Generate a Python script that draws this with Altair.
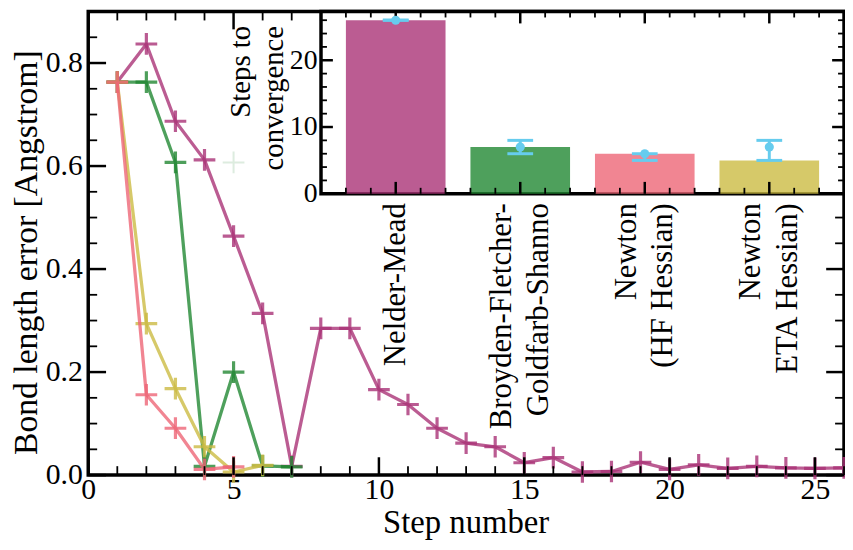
import altair as alt
import pandas as pd

FONT = "Liberation Serif"

# ---------------- main panel data ----------------
steps_nm = [1, 2, 3, 4, 5, 6, 7, 8, 9, 10, 11, 12, 13, 14, 15, 16, 17, 18, 19, 20, 21, 22, 23, 24, 25, 26]
err_nm = [0.763, 0.837, 0.687, 0.612, 0.464, 0.314, 0.017, 0.285, 0.285, 0.166, 0.137, 0.091, 0.062,
          0.055, 0.024, 0.034, 0.006, 0.007, 0.025, 0.011, 0.020, 0.013, 0.017, 0.014, 0.013, 0.014]
steps_bfgs = [1, 2, 3, 4, 5, 6, 7]
err_bfgs = [0.763, 0.763, 0.607, 0.017, 0.200, 0.018, 0.016]
steps_hf = [1, 2, 3, 4, 5]
err_hf = [0.763, 0.156, 0.091, 0.011, 0.016]
steps_eta = [1, 2, 3, 4, 5, 6]
err_eta = [0.763, 0.294, 0.168, 0.055, 0.006, 0.019]
ghost_step = [5]
ghost_err = [0.607]

# ---------------- inset data ----------------
methods = ["Nelder-Mead", "BFGS", "Newton HF", "Newton ETA"]
method_labels = ["Nelder-Mead", "Broyden-Fletcher-|Goldfarb-Shanno", "Newton|(HF Hessian)", "Newton|ETA Hessian)"]
method_idx = [0, 1, 2, 3]
bar_steps = [26, 7, 6, 5]
bar_base = [0, 0, 0, 0]
pt_mean = [26, 7, 6, 7]
pt_lo = [26, 6, 5, 5]
pt_hi = [26, 8, 6, 8]

colors = ["#AA3377", "#228833", "#EE6677", "#CCBB44"]
cyan = "#66CCEE"

# ---------------- axes / ticks ----------------
main_x_domain = [0, 26]
main_y_domain = [0, 0.9]
main_x_major = [0, 5, 10, 15, 20, 25]
main_x_minor = [1, 2, 3, 4, 6, 7, 8, 9, 11, 12, 13, 14, 16, 17, 18, 19, 21, 22, 23, 24, 26]
main_y_major = [0.0, 0.2, 0.4, 0.6, 0.8]
main_y_minor = [0.05, 0.1, 0.15, 0.25, 0.3, 0.35, 0.45, 0.5, 0.55, 0.65, 0.7, 0.75, 0.85]

inset_x_domain = [-0.6, 3.6]
inset_y_domain = [0, 27.3]
inset_x_major = [0, 1, 2, 3]
inset_x_minor = [-0.4, -0.2, 0.2, 0.4, 0.6, 0.8, 1.2, 1.4, 1.6, 1.8, 2.2, 2.4, 2.6, 2.8, 3.2, 3.4]
inset_y_major = [0, 10, 20]
inset_y_minor = [2, 4, 6, 8, 12, 14, 16, 18, 22, 24, 26]

W, H = 763, 468
INSET_RANGE_X = [235, 763]
INSET_RANGE_Y = [184, 0]
LABEL_LH = 37

mx = alt.Scale(domain=main_x_domain, nice=False, zero=False)
my = alt.Scale(domain=main_y_domain, nice=False, zero=False)
ix = alt.Scale(domain=inset_x_domain, range=INSET_RANGE_X, nice=False, zero=False)
iy = alt.Scale(domain=inset_y_domain, range=INSET_RANGE_Y, nice=False, zero=False)

main_xaxis = alt.Axis(
    orient="bottom", values=main_x_major, labelFontSize=30, labelPadding=0, labelBaseline="top",
    labelFlush=False, labelOverlap=False, title="Step number", titleFontSize=33,
    titleX=381, titleY=58, titleBaseline="alphabetic", titleAlign="center")
main_yaxis = alt.Axis(
    orient="left", values=main_y_major, format=".1f", labelFontSize=30, labelPadding=6,
    labelFlush=False, labelOverlap=False, title="Bond length error [Angstrom]",
    titleFontSize=34, titleX=-62, titleY=243, titleAngle=270,
    titleBaseline="middle", titleAlign="center")

label_array = "[" + ",".join("'" + s + "'" for s in method_labels) + "]"
inset_xaxis = alt.Axis(
    orient="bottom", offset=-(H - INSET_RANGE_Y[0]), values=inset_x_major,
    labelExpr=f"split({label_array}[datum.value], '|')",
    labelAngle=270, labelAlign="right", labelBaseline="middle", labelPadding=9,
    labelOffset={"condition": {"test": f"length(split({label_array}[datum.value], '|')) > 1",
                               "value": -LABEL_LH / 2}, "value": 0},
    labelFontSize=31, labelLineHeight=LABEL_LH, labelOverlap=False, labelFlush=False,
    labelBound=False, labelLimit=1000, title=None)
inset_yaxis = alt.Axis(
    orient="left", offset=-INSET_RANGE_X[0], values=inset_y_major,
    labelFontSize=28, labelPadding=4, labelFlush=False, labelOverlap=False,
    title=["Steps to", "convergence"], titleFontSize=29, titleAngle=270,
    titleAlign="right", titleBaseline="middle", titleX=-81, titleY=14,
    titleLineHeight=33, titleLimit=1000)

PLUS = "M-1,0L1,0M0,-1L0,1"


def series_layers(steps, errs, color, opacity=0.8):
    df = pd.DataFrame({"step": steps, "err": errs})
    enc = dict(x=alt.X("step:Q", scale=mx, axis=main_xaxis),
               y=alt.Y("err:Q", scale=my, axis=main_yaxis))
    line = alt.Chart(df).mark_line(color=color, strokeWidth=3.3, opacity=opacity,
                                   strokeJoin="round").encode(**enc)
    pts = alt.Chart(df).mark_point(shape=PLUS, size=480, filled=False, strokeWidth=3.2,
                                   opacity=opacity, color=color).encode(**enc)
    return [line, pts]


def ticks(values, sx, sy, ax_x, ax_y, side, edge, length, thick):
    df = pd.DataFrame({"v": values})
    base = alt.Chart(df)
    if side in ("bottom", "top"):
        off = -length / 2 if side == "bottom" else length / 2
        return base.mark_tick(orient="vertical", size=length, thickness=thick,
                              yOffset=off, color="black", opacity=1).encode(
            x=alt.X("v:Q", scale=sx, axis=ax_x),
            y=alt.YDatum(edge, type="quantitative", scale=sy, axis=ax_y))
    off = length / 2 if side == "left" else -length / 2
    return base.mark_tick(orient="horizontal", size=length, thickness=thick,
                          xOffset=off, color="black", opacity=1).encode(
        y=alt.Y("v:Q", scale=sy, axis=ax_y),
        x=alt.XDatum(edge, type="quantitative", scale=sx, axis=ax_x))


main_layers = []
main_layers += series_layers(steps_nm, err_nm, colors[0])
main_layers += series_layers(steps_bfgs, err_bfgs, colors[1])
main_layers += series_layers(steps_eta, err_eta, colors[3])
main_layers += series_layers(steps_hf, err_hf, colors[2])
ghost = alt.Chart(pd.DataFrame({"step": ghost_step, "err": ghost_err})).mark_point(
    shape=PLUS, size=480, filled=False, strokeWidth=2, opacity=0.15, color=colors[1]).encode(
    x=alt.X("step:Q", scale=mx, axis=main_xaxis), y=alt.Y("err:Q", scale=my, axis=main_yaxis))
main_layers.append(ghost)

for side, edge in (("bottom", main_y_domain[0]), ("top", main_y_domain[1])):
    main_layers.append(ticks(main_x_major, mx, my, main_xaxis, main_yaxis, side, edge, 18, 2.5))
    main_layers.append(ticks(main_x_minor, mx, my, main_xaxis, main_yaxis, side, edge, 9, 1.8))
for side, edge in (("left", main_x_domain[0]), ("right", main_x_domain[1])):
    main_layers.append(ticks(main_y_major, mx, my, main_xaxis, main_yaxis, side, edge, 18, 2.5))
    main_layers.append(ticks(main_y_minor, mx, my, main_xaxis, main_yaxis, side, edge, 9, 1.8))

main = alt.layer(*main_layers)

# ---------------- inset ----------------
idf = pd.DataFrame({"method": methods, "idx": method_idx, "steps": bar_steps, "base": bar_base,
                    "mean": pt_mean, "lo": pt_lo, "hi": pt_hi})
BAR_HALF = 0.4

bg = alt.Chart(pd.DataFrame({"x0": [inset_x_domain[0]], "x1": [inset_x_domain[1]],
                             "y0": [inset_y_domain[0]], "y1": [inset_y_domain[1]]})).mark_rect(
    fill="white", stroke="black", strokeWidth=3.5).encode(
    x=alt.X("x0:Q", scale=ix, axis=inset_xaxis), x2="x1:Q",
    y=alt.Y("y0:Q", scale=iy, axis=inset_yaxis), y2="y1:Q")

bars = alt.Chart(idf).transform_calculate(
    x0=f"datum.idx - {BAR_HALF}", x1=f"datum.idx + {BAR_HALF}").mark_bar(opacity=0.8).encode(
    x=alt.X("x0:Q", scale=ix, axis=inset_xaxis),
    x2="x1:Q",
    y=alt.Y("steps:Q", scale=iy, stack=None, axis=inset_yaxis),
    y2="base:Q",
    color=alt.Color("method:N", scale=alt.Scale(domain=methods, range=colors), legend=None))

inset_layers = [bg, bars]
for side, edge in (("bottom", inset_y_domain[0]), ("top", inset_y_domain[1])):
    inset_layers.append(ticks(inset_x_major, ix, iy, inset_xaxis, inset_yaxis, side, edge, 12, 2.5))
    inset_layers.append(ticks(inset_x_minor, ix, iy, inset_xaxis, inset_yaxis, side, edge, 6, 1.8))
for side, edge in (("left", inset_x_domain[0]), ("right", inset_x_domain[1])):
    inset_layers.append(ticks(inset_y_major, ix, iy, inset_xaxis, inset_yaxis, side, edge, 12, 2.5))
    inset_layers.append(ticks(inset_y_minor, ix, iy, inset_xaxis, inset_yaxis, side, edge, 6, 1.8))

err_rule = alt.Chart(idf).mark_rule(color=cyan, strokeWidth=3).encode(
    x=alt.X("idx:Q", scale=ix, axis=inset_xaxis), y=alt.Y("lo:Q", scale=iy, axis=inset_yaxis), y2="hi:Q")
caps = alt.Chart(idf).transform_fold(["lo", "hi"], as_=["k", "val"]).mark_tick(
    orient="horizontal", size=26, thickness=3, color=cyan, opacity=1).encode(
    x=alt.X("idx:Q", scale=ix, axis=inset_xaxis), y=alt.Y("val:Q", scale=iy, axis=inset_yaxis))
dots = alt.Chart(idf).mark_circle(size=85, color=cyan, opacity=1).encode(
    x=alt.X("idx:Q", scale=ix, axis=inset_xaxis), y=alt.Y("mean:Q", scale=iy, axis=inset_yaxis))
inset_layers += [err_rule, caps, dots]

inset = alt.layer(*inset_layers)

chart = alt.layer(main, inset).resolve_scale(x="independent", y="independent").properties(
    width=W, height=H,
    padding={"left": 81, "top": 1, "right": 1, "bottom": 65},
    autosize=alt.AutoSizeParams(type="none"),
).configure_axis(
    grid=False, ticks=False, domain=False, labelColor="black", titleColor="black",
    labelFont=FONT, titleFont=FONT, titleFontWeight="normal",
).configure_view(stroke="black", strokeWidth=3.5)

chart.save("out.html", embed_options={"renderer": "svg", "actions": False})
